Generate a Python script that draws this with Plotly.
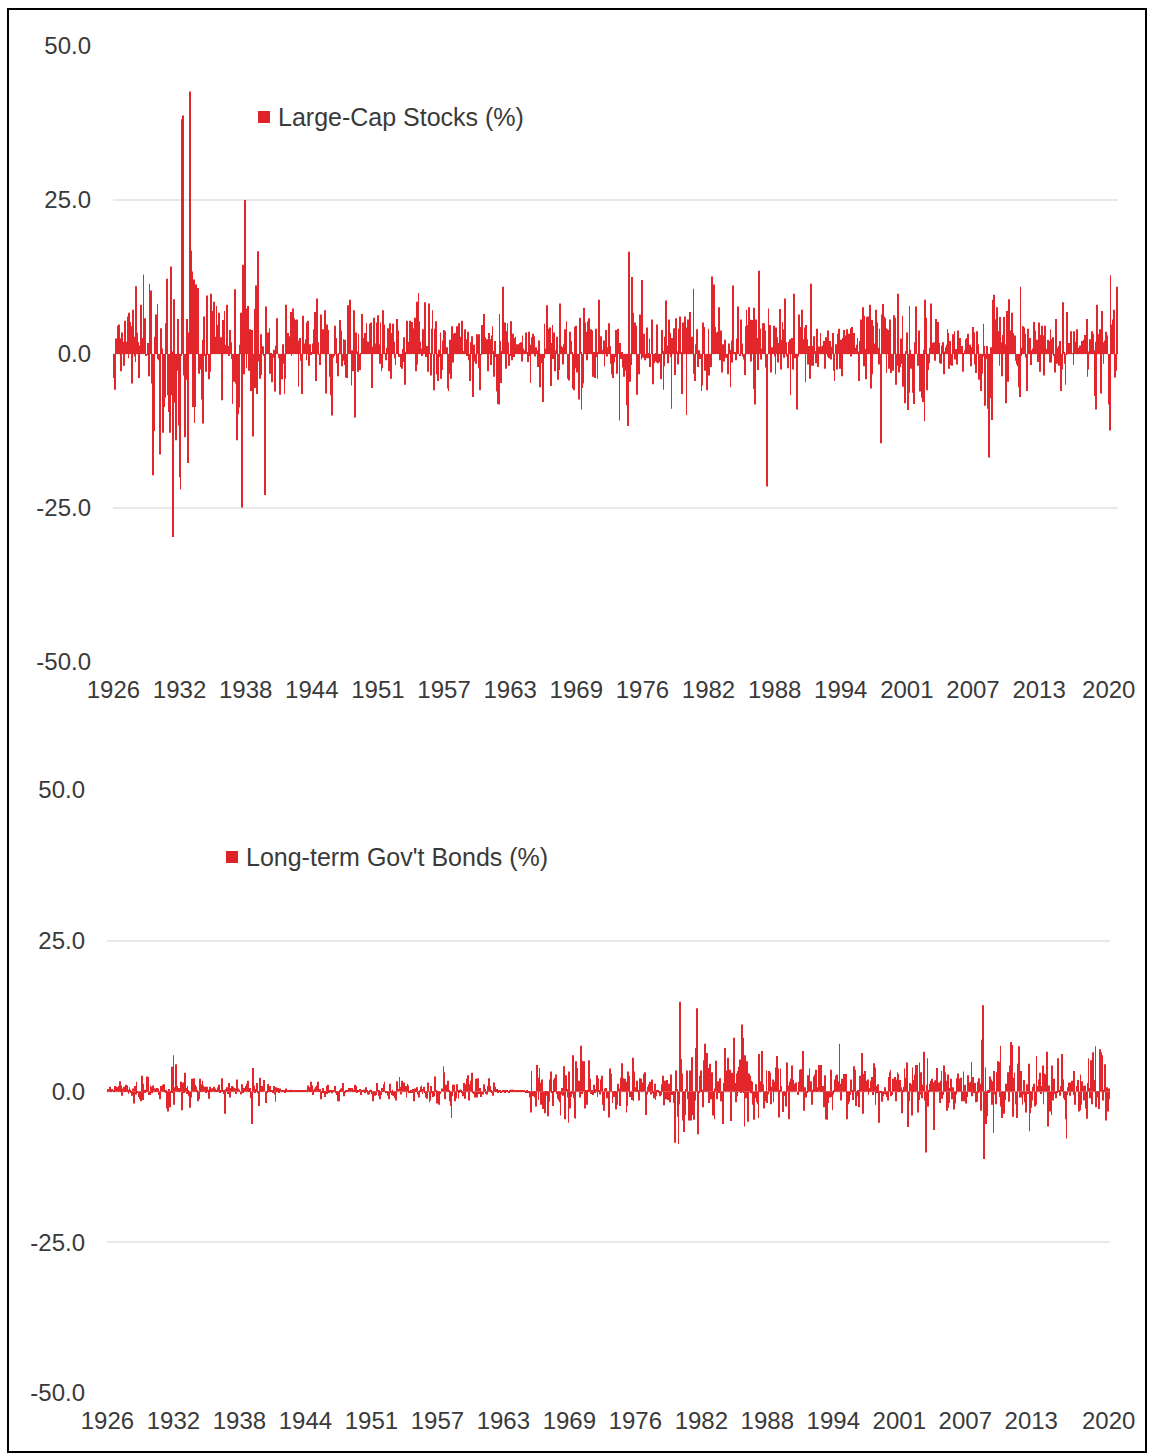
import plotly.graph_objects as go

# ---------------- data ----------------
start_year = 1926
end_year = 2020
months = [f"{y}-{m:02d}" for y in range(start_year, end_year + 1) for m in range(1, 13)]

# Monthly total returns (%), one row per year, Jan..Dec
stock_rows = [
    [0.0, -3.9, -5.8, 2.5, 1.8, 4.6, 4.8, 2.5, 2.5, -2.8, 3.5, 2.0],      # 1926
    [-1.9, 5.4, 0.9, 2.0, 6.1, -0.7, 6.7, 5.2, 4.5, -4.8, 7.2, 2.8],      # 1927
    [-0.4, -1.3, 11.0, 3.5, 1.9, -3.9, 1.4, 8.0, 2.6, 1.7, 12.9, 0.5],    # 1928
    [5.8, -0.2, -0.1, 1.8, -3.6, 11.4, 4.7, 10.3, -4.8, -19.7, -12.5, 2.8],  # 1929
    [6.4, 2.6, 8.1, -0.8, -1.0, -16.3, 4.2, 0.9, -12.8, -8.6, -0.9, -7.1],   # 1930
    [5.0, 12.2, -6.7, -9.4, -12.8, 14.2, -6.7, 0.4, -29.7, 8.9, -7.9, -14.0],  # 1931
    [-2.7, 5.7, -11.6, -20.0, -22.0, -0.2, 38.1, 38.7, -3.5, -13.5, -4.2, 5.7],  # 1932
    [0.9, -17.7, 3.5, 42.6, 16.8, 13.4, -8.6, 12.1, -11.2, -8.6, 11.3, 2.5],   # 1933
    [10.7, -3.2, 0.0, -2.5, -7.4, 2.3, -11.3, 6.1, -0.3, -2.9, 9.5, -0.1],     # 1934
    [-4.1, -3.4, -2.9, 9.8, 4.1, 7.0, 8.5, 2.8, 2.6, 7.8, 4.7, 3.9],          # 1935
    [6.7, 2.2, 2.7, -7.5, 5.5, 3.3, 7.0, 1.5, 0.3, 8.0, 1.3, -0.3],           # 1936
    [3.9, 1.9, -0.8, -8.1, -0.2, -4.5, 10.5, -4.8, -14.0, -9.8, -8.7, -4.6],  # 1937
    [1.5, 6.7, -24.9, 14.5, -3.3, 25.0, 7.4, -2.3, 1.6, 7.8, -2.7, 4.0],      # 1938
    [-6.0, 3.9, -13.4, -0.3, 7.3, -5.5, 11.1, -6.5, 16.7, -1.2, -4.0, 3.2],   # 1939
    [-3.4, 1.3, 1.2, -0.2, -22.9, 7.7, 3.4, 3.5, 1.2, 4.2, -3.2, 0.1],        # 1940
    [-4.6, -0.6, 0.7, -6.1, 1.4, 5.8, 5.8, 0.0, -0.7, -6.6, -2.8, -4.1],      # 1941
    [1.6, -1.6, -6.5, -4.0, 8.0, 2.2, 3.4, 1.6, 2.9, 6.8, -0.2, 5.5],         # 1942
    [7.4, 5.8, 5.5, 0.4, 5.6, 2.2, -5.3, 1.7, 2.6, -1.1, -6.5, 6.2],          # 1943
    [1.7, 0.4, 2.4, -1.0, 5.1, 5.4, -1.9, 1.6, -0.1, 0.2, 1.7, 4.0],          # 1944
    [2.0, 6.8, -4.4, 9.0, 1.9, -0.1, -1.8, 6.4, 4.8, 3.9, 4.0, 1.2],          # 1945
    [7.1, -6.4, 4.8, 3.9, 2.9, -3.7, -2.4, -6.7, -10.0, -0.6, -0.3, 4.6],     # 1946
    [2.6, -0.8, -1.5, -3.6, 0.1, 5.5, 3.8, -2.0, -1.1, 2.4, -1.8, 2.3],       # 1947
    [-3.8, -3.9, 7.9, 2.9, 8.8, 0.5, -5.1, 0.6, -2.8, 7.1, -10.3, 3.5],       # 1948
    [0.4, -2.9, 3.3, -1.8, -2.6, 0.1, 6.5, 2.2, 2.6, 3.4, 1.8, 5.0],          # 1949
    [2.0, 2.0, 0.7, 4.9, 5.1, -5.5, 1.2, 5.1, 5.9, 0.9, 1.7, 5.1],            # 1950
    [6.3, 1.6, -1.6, 5.1, -2.8, -2.3, 7.1, 4.8, 0.1, -1.0, 1.0, 4.2],         # 1951
    [1.8, -2.8, 5.0, -4.0, 3.4, 4.9, 2.0, -0.7, -1.8, 0.2, 5.7, 3.8],         # 1952
    [-0.5, -0.1, -2.1, -2.4, 0.8, -1.3, 2.7, -5.0, 0.3, 5.4, 2.0, 0.5],       # 1953
    [5.4, 1.1, 3.2, 5.2, 4.2, 0.3, 5.9, -2.8, 8.5, -1.7, 9.9, 5.3],           # 1954
    [2.0, 0.9, -0.3, 4.0, 0.6, 8.4, 6.1, -0.5, 1.3, -2.9, 8.2, 0.1],          # 1955
    [-3.5, 4.1, 7.1, -0.0, -5.9, 4.1, 5.3, -3.3, -4.4, 0.7, -0.5, 3.5],       # 1956
    [-4.0, -2.6, 2.2, 3.9, 3.7, 0.1, 1.1, -5.6, -6.0, -3.2, 2.3, -4.0],       # 1957
    [4.5, -1.4, 3.3, 3.4, 2.1, 2.8, 4.5, 1.8, 5.0, 2.7, 2.8, 5.4],            # 1958
    [0.5, 0.5, 0.1, 4.0, 2.4, -0.2, 3.6, -1.0, -4.4, 1.3, 1.9, 2.9],          # 1959
    [-7.0, 1.5, -1.2, -1.6, 3.2, 2.1, -2.3, 3.2, -5.9, -0.1, 4.7, 4.7],       # 1960
    [6.5, 3.2, 2.7, 0.4, 2.4, -2.8, 3.4, 2.4, -1.8, 3.0, 4.5, 0.5],           # 1961
    [-3.7, 2.1, -0.5, -6.1, -8.1, -8.2, 6.5, 2.1, -4.7, 0.5, 10.9, 1.5],      # 1962
    [5.1, -2.4, 3.7, 5.0, 1.9, -1.9, -0.2, 5.3, -1.0, 3.3, -0.5, 2.6],        # 1963
    [2.8, 1.5, 1.6, 0.8, 1.6, 1.8, 1.9, -1.2, 3.0, 0.9, 0.0, 0.6],            # 1964
    [3.5, 0.3, -1.3, 3.6, -0.3, -4.7, 1.5, 2.7, 3.3, 2.9, -0.4, 1.1],         # 1965
    [0.6, -1.3, -2.1, 2.2, -5.4, -1.5, -1.3, -7.8, -0.7, 4.9, 0.9, 0.0],      # 1966
    [7.9, 0.7, 4.1, 4.3, -5.2, 1.8, 4.7, -0.8, 3.5, -2.8, 0.6, 2.8],          # 1967
    [-4.2, -2.6, 1.1, 8.2, 1.3, 1.1, -1.7, 1.6, 4.0, 0.9, 5.3, -4.0],         # 1968
    [-0.7, -4.3, 3.6, 2.1, 0.2, -5.6, -5.9, 4.4, -2.3, 4.6, -3.0, -1.9],      # 1969
    [-7.4, 5.9, 0.3, -9.0, -5.5, -4.8, 7.5, 5.1, 3.6, -1.0, 5.3, 5.8],        # 1970
    [4.2, 1.4, 4.0, 3.8, -3.7, 0.2, -3.9, 4.1, -0.5, -4.0, 0.3, 8.8],         # 1971
    [1.9, 2.9, 0.7, 0.6, 2.2, -2.0, 0.4, 3.9, -0.4, 1.1, 5.0, 1.3],           # 1972
    [-1.6, -3.3, 0.0, -3.9, -1.4, -0.5, 3.9, -3.2, 4.1, 0.0, -10.8, 1.8],     # 1973
    [-0.8, 0.3, -2.2, -3.7, -2.7, -1.3, -7.6, -8.3, -11.7, 16.6, -4.5, -1.8], # 1974
    [12.5, 6.7, 2.4, 5.0, 5.1, 4.6, -6.6, -1.5, -3.3, 6.4, 3.1, -0.9],        # 1975
    [12.0, -0.6, 3.3, -1.0, -0.7, 4.3, -0.7, 0.1, 2.5, -2.1, 0.0, 5.6],       # 1976
    [-4.9, -1.5, -1.2, 0.1, -1.4, 4.8, -1.5, -1.3, 0.0, -4.1, 3.9, 0.5],      # 1977
    [-5.8, -2.0, 2.8, 8.7, 1.4, -1.5, 5.6, 3.4, -0.5, -8.9, 2.6, 1.7],        # 1978
    [4.2, -3.4, 5.8, 0.4, -1.7, 4.1, 1.1, 6.1, 0.3, -6.5, 5.1, 1.9],          # 1979
    [6.1, 0.3, -9.9, 4.3, 5.6, 3.0, 6.8, 1.3, 2.8, 1.9, 10.6, -3.2],          # 1980
    [-4.4, 1.6, 4.0, -2.1, 0.6, -0.8, -0.1, -6.0, -5.1, 5.1, 4.4, -2.7],      # 1981
    [-1.6, -5.9, -0.9, 4.1, -3.5, -1.9, -2.1, 12.6, 1.1, 11.3, 4.4, 1.9],     # 1982
    [3.5, 2.6, 3.6, 7.6, -1.0, 3.8, -3.0, 1.6, 1.4, -1.2, 2.3, -0.6],         # 1983
    [-0.6, -3.3, 1.7, 0.7, -5.4, 2.2, -1.4, 11.1, 0.0, 0.3, -1.0, 2.5],       # 1984
    [7.7, 1.4, 0.0, -0.3, 5.6, 1.7, -0.4, -0.9, -3.4, 4.5, 7.2, 4.7],         # 1985
    [0.4, 7.6, 5.6, -1.2, 5.5, 1.7, -5.7, 7.5, -8.2, 5.6, 2.6, -2.6],         # 1986
    [13.5, 4.1, 2.8, -0.9, 0.9, 5.0, 5.0, 3.8, -2.2, -21.5, -8.2, 7.4],       # 1987
    [4.3, 4.7, -3.0, 1.1, 0.8, 4.6, -0.4, -3.3, 4.3, 2.7, -1.4, 1.8],         # 1988
    [7.3, -2.5, 2.3, 5.2, 4.0, -0.6, 9.0, 1.9, -0.4, -2.3, 2.0, 2.4],         # 1989
    [-6.7, 1.3, 2.6, -2.5, 9.8, -0.7, -0.3, -9.0, -4.9, -0.4, 6.4, 2.7],      # 1990
    [4.4, 7.2, 2.4, 0.2, 4.3, -4.6, 4.7, 2.4, -1.7, 1.3, -4.0, 11.4],         # 1991
    [-1.9, 1.3, -1.9, 2.9, 0.5, -1.5, 4.1, -2.1, 1.2, 0.4, 3.4, 1.2],         # 1992
    [0.8, 1.4, 2.1, -2.4, 2.7, 0.3, -0.4, 3.8, -0.7, 2.1, -0.9, 1.2],         # 1993
    [3.4, -2.7, -4.4, 1.3, 1.6, -2.5, 3.3, 4.1, -2.4, 2.3, -3.6, 1.5],        # 1994
    [2.6, 3.9, 3.0, 2.9, 4.0, 2.3, 3.3, 0.3, 4.2, -0.4, 4.4, 1.9],            # 1995
    [3.4, 0.9, 1.0, 1.5, 2.6, 0.4, -4.4, 2.1, 5.6, 2.8, 7.6, -2.0],           # 1996
    [6.2, 0.8, -4.1, 6.0, 6.1, 4.5, 8.0, -5.6, 5.5, -3.3, 4.6, 1.7],          # 1997
    [1.1, 7.2, 5.1, 1.0, -1.7, 4.1, -1.1, -14.5, 6.4, 8.1, 6.1, 5.8],         # 1998
    [4.2, -3.1, 4.0, 3.9, -2.4, 5.6, -3.1, -0.5, -2.7, 6.3, 2.0, 5.9],        # 1999
    [-5.0, -1.9, 9.8, -3.0, -2.1, 2.5, -1.6, 6.2, -5.3, -0.4, -8.0, 0.5],     # 2000
    [3.5, -9.1, -6.3, 7.8, 0.7, -2.4, -1.0, -6.3, -8.1, 1.9, 7.7, 0.9],       # 2001
    [-1.5, -1.9, 3.8, -6.1, -0.7, -7.1, -7.8, 0.7, -10.9, 8.8, 5.9, -5.9],    # 2002
    [-2.6, -1.5, 1.0, 8.2, 5.3, 1.3, 1.8, 1.9, -1.1, 5.7, 0.9, 5.2],          # 2003
    [1.8, 1.4, -1.5, -1.6, 1.4, 1.9, -3.3, 0.4, 1.1, 1.5, 4.0, 3.4],          # 2004
    [-2.4, 2.1, -1.8, -1.9, 3.2, 0.1, 3.7, -0.9, 0.8, -1.7, 3.8, 0.0],        # 2005
    [2.6, 0.3, 1.2, 1.3, -2.9, 0.1, 0.6, 2.4, 2.6, 3.3, 1.9, 1.4],            # 2006
    [1.5, -2.0, 1.1, 4.4, 3.5, -1.7, -3.1, 1.5, 3.7, 1.6, -4.2, -0.7],        # 2007
    [-6.0, -3.2, -0.4, 4.9, 1.3, -8.4, -0.8, 1.3, -8.9, -16.8, -7.2, 1.1],    # 2008
    [-8.4, -10.7, 8.8, 9.6, 5.6, 0.2, 7.6, 3.6, 3.7, -1.9, 6.0, 1.9],         # 2009
    [-3.6, 3.1, 6.0, 1.6, -8.0, -5.2, 7.0, -4.5, 8.9, 3.8, 0.0, 6.7],         # 2010
    [2.4, 3.4, 0.0, 3.0, -1.1, -1.7, -2.0, -5.4, -7.0, 10.9, -0.2, 1.0],      # 2011
    [4.5, 4.3, 3.3, -0.6, -6.0, 4.1, 1.4, 2.3, 2.6, -1.8, 0.6, 0.9],          # 2012
    [5.2, 1.4, 3.8, 1.9, 2.3, -1.3, 5.1, -2.9, 3.1, 4.6, 3.0, 2.5],           # 2013
    [-3.5, 4.6, 0.8, 0.7, 2.3, 2.1, -1.4, 4.0, -1.4, 2.4, 2.7, -0.3],         # 2014
    [-3.0, 5.7, -1.6, 1.0, 1.3, -1.9, 2.1, -6.0, -2.5, 8.4, 0.3, -1.6],       # 2015
    [-5.0, -0.1, 6.8, 0.4, 1.8, 0.3, 3.7, 0.1, 0.0, -1.8, 3.7, 2.0],          # 2016
    [1.9, 4.0, 0.1, 1.0, 1.4, 0.6, 2.1, 0.3, 2.1, 2.3, 3.1, 1.1],             # 2017
    [5.7, -3.7, -2.5, 0.4, 2.4, 0.6, 3.7, 3.3, 0.6, -6.8, 2.0, -9.0],         # 2018
    [8.0, 3.2, 1.9, 4.0, -6.4, 7.0, 1.4, -1.6, 1.9, 2.2, 3.6, 3.0],           # 2019
    [-0.0, -8.2, -12.4, 12.8, 4.8, 2.0, 5.6, 7.2, -3.8, -2.7, 10.9, 3.8],     # 2020
]

bond_rows = [
    [0.1, 0.4, 0.4, 0.8, 0.1, 0.4, 0.0, 0.1, 0.4, 0.9, 0.8, 0.7],            # 1926
    [0.6, 0.9, 1.7, 0.1, 1.0, -0.7, 0.5, 0.8, 0.1, 1.1, 1.0, 0.3],           # 1927
    [-0.4, 0.7, 0.3, -0.1, -0.7, 0.5, -2.0, 0.9, -0.5, 1.6, -0.2, 0.0],      # 1928
    [-0.9, -1.3, -1.6, 2.6, -1.4, 1.3, 0.3, -0.2, 0.3, 2.5, 2.4, -0.6],      # 1929
    [-0.6, 1.0, 0.8, -0.3, 1.0, 0.5, 0.5, 0.2, 0.6, 0.5, 0.4, -0.6],         # 1930
    [-1.3, 0.9, 0.9, 1.1, 1.2, 0.1, -0.1, 0.1, -2.8, -3.3, 0.4, -2.6],       # 1931
    [-0.2, 4.1, -0.2, 6.0, -2.2, 0.7, 4.5, 0.9, 0.6, 0.1, 0.6, 1.6],         # 1932
    [1.6, -3.1, 1.5, -0.1, 3.1, 0.6, -0.4, 0.9, 0.2, -0.8, -2.7, -1.0],      # 1933
    [2.1, 0.9, 2.2, 1.5, 1.1, 0.8, 0.1, -1.6, -1.3, 2.1, 0.3, 1.2],          # 1934
    [1.8, 1.0, 0.5, 0.8, -0.2, 0.8, 0.3, -1.2, -0.1, 0.8, 0.2, 0.5],         # 1935
    [0.5, 0.8, 0.5, 0.2, 0.3, 0.1, 0.7, 1.1, -0.1, 0.2, 2.2, 0.2],           # 1936
    [-0.4, 0.2, -3.7, 0.4, 0.7, -0.4, 1.4, -1.0, 0.6, 0.5, 0.9, 0.8],        # 1937
    [0.6, 0.5, -0.4, 2.0, 0.5, 0.0, 0.3, 0.0, -0.5, 1.2, -0.2, 0.6],         # 1938
    [0.6, 0.9, 1.3, 1.2, 1.8, 0.1, 0.6, -1.1, -5.4, 3.9, 1.5, 1.0],          # 1939
    [-0.2, 0.4, 1.4, -0.3, -2.4, 2.3, 0.7, 0.3, 0.9, 0.4, 1.9, 0.0],         # 1940
    [-1.9, -0.1, 1.2, 1.3, 0.2, 0.9, 0.2, 0.1, -0.1, 0.9, -0.5, -1.7],       # 1941
    [0.7, 0.1, 0.6, -0.1, 0.5, 0.0, 0.2, 0.1, 0.0, 0.2, -0.2, 0.5],          # 1942
    [0.2, 0.0, 0.1, 0.2, 0.3, 0.3, 0.1, 0.1, 0.1, 0.1, 0.0, 0.2],            # 1943
    [0.2, 0.2, 0.1, 0.1, 0.2, 0.1, 0.2, 0.2, 0.1, 0.1, 0.2, 0.2],            # 1944
    [1.0, 0.7, 0.1, 1.6, 0.3, 1.0, -0.6, 0.3, 0.5, 0.8, 1.0, 1.6],           # 1945
    [0.2, 0.3, 0.4, -1.3, -0.1, 0.6, -0.2, -0.9, -0.3, 0.9, -0.4, 1.1],      # 1946
    [-0.1, 0.1, 0.2, -0.3, 0.2, 0.2, 0.5, 0.9, -0.2, -0.6, -1.6, -1.6],      # 1947
    [0.1, 0.5, 0.4, 0.5, 1.4, -0.8, -0.1, 0.1, 0.2, 0.1, 0.6, 0.4],          # 1948
    [0.6, 0.5, 0.6, 0.2, 0.3, 1.1, 0.3, 0.9, -0.1, 0.1, 0.1, 0.4],           # 1949
    [-0.6, 0.1, 0.0, 0.3, 0.3, -0.3, 0.7, 0.1, -0.5, -0.5, 0.2, 0.2],        # 1950
    [0.3, -0.4, -1.6, -0.6, -0.7, -0.6, 1.4, 1.0, -0.8, 0.1, -1.3, -0.6],    # 1951
    [0.6, 0.2, 1.2, 1.6, -0.3, 0.0, -0.3, -0.7, -1.3, 1.3, -0.2, -0.6],      # 1952
    [0.3, -0.7, -0.7, -1.1, -1.5, 1.7, 0.4, 0.0, 2.4, 0.8, -0.5, 1.8],       # 1953
    [0.9, 1.5, 0.8, 0.9, -1.0, 1.3, 1.0, -0.2, -0.2, 0.2, -0.1, 0.4],        # 1954
    [-1.6, -0.5, 0.5, 0.1, 0.7, -0.5, -1.0, 0.1, 0.8, 1.0, -0.4, 0.4],       # 1955
    [0.8, -0.1, -1.0, -1.2, 1.5, 0.4, -1.8, -1.5, 0.9, -0.3, -0.9, -0.8],    # 1956
    [2.5, 0.1, -0.2, -2.0, -0.1, -2.2, -0.4, 0.0, 0.5, 0.0, 4.2, 3.2],       # 1957
    [-1.3, 1.1, 0.5, 1.8, 0.1, -1.6, -2.4, -4.4, -0.8, 1.1, 1.1, -1.6],      # 1958
    [-1.1, 1.2, 0.2, -1.2, -0.1, 0.3, 0.3, -0.3, -0.8, 1.4, -1.2, -1.1],     # 1959
    [1.2, 2.1, 2.7, -1.5, 1.2, 1.8, 3.1, -0.3, 0.0, -0.4, -1.0, 2.1],        # 1960
    [-1.0, 2.2, -0.4, 0.6, -0.3, -0.9, 0.0, -0.5, 1.2, 0.4, -0.4, -0.5],     # 1961
    [-0.1, 0.9, 2.2, 0.9, 0.2, -0.2, -0.7, 1.5, 0.6, 0.8, 0.2, 0.4],         # 1962
    [-0.1, 0.1, 0.1, -0.1, 0.0, 0.2, 0.1, 0.2, -0.1, 0.1, 0.1, 0.0],         # 1963
    [-0.1, 0.1, 0.2, 0.3, 0.3, 0.3, 0.1, 0.2, 0.2, 0.1, 0.1, 0.2],           # 1964
    [0.1, 0.1, 0.2, 0.1, 0.1, 0.1, 0.1, 0.0, -0.1, 0.1, -0.1, -0.1],         # 1965
    [-1.0, -3.5, 3.4, -0.6, -0.8, -0.3, -1.0, -2.5, 4.4, 2.3, -1.4, 3.9],    # 1966
    [1.5, -2.2, 2.0, -2.9, -0.4, -3.6, -0.3, -0.7, -0.2, -4.1, -1.7, 2.0],   # 1967
    [3.3, -0.3, -2.4, 2.0, 0.3, 2.3, 2.8, -0.4, -1.2, -1.5, -1.8, -4.0],     # 1968
    [-0.5, 0.6, -0.7, 4.2, -4.6, 2.7, 0.4, -1.0, -5.2, 3.3, -2.8, -0.9],     # 1969
    [-0.4, 6.0, -1.1, -4.4, -4.5, 5.0, 3.9, 0.5, 1.8, -1.0, 7.6, -0.4],      # 1970
    [5.1, 1.7, 5.0, -2.8, 0.2, -2.2, 0.3, 5.2, 2.1, 2.1, -0.4, 0.2],         # 1971
    [-0.6, 1.1, -0.2, 0.4, 2.7, -0.9, 2.2, 0.2, -0.5, 2.0, 2.6, -2.2],       # 1972
    [-3.2, 0.5, 0.5, 0.6, -1.1, -0.5, -4.3, 3.8, 3.0, 2.0, -1.9, -0.7],      # 1973
    [-0.9, -0.1, -3.0, -2.2, 1.3, 0.5, -0.1, -2.4, 2.3, 4.7, 2.2, 1.9],      # 1974
    [2.1, 1.6, -3.5, -2.4, 3.3, 2.6, -0.9, -0.4, -1.4, 5.6, -1.6, 3.3],      # 1975
    [0.6, 0.7, 1.8, 0.1, -1.5, 2.2, 1.1, 2.1, 1.5, 0.9, 2.9, 3.2],           # 1976
    [-3.9, -0.5, 0.8, 0.9, 1.2, 1.6, -0.5, 2.0, -0.3, -1.1, 1.3, -1.4],      # 1977
    [-0.8, 0.2, 0.2, -0.2, -0.8, -0.6, 1.2, 2.6, -0.7, -2.3, 1.8, -1.3],     # 1978
    [1.9, -1.4, 1.3, -1.8, 2.5, 2.8, -0.6, -0.4, -1.9, -8.5, 3.5, 0.4],      # 1979
    [-4.2, -8.7, -2.1, 14.9, 5.4, 3.0, -4.8, -6.7, -3.3, -3.9, 0.4, 3.5],    # 1980
    [-1.3, -4.8, 3.5, -4.8, 5.7, -1.2, -3.9, -4.7, -1.5, 7.2, 13.8, -7.1],   # 1981
    [-0.2, 2.6, 2.1, 3.5, 0.3, -2.6, 5.2, 7.9, 6.3, 6.4, 0.1, 3.9],          # 1982
    [-1.9, 4.6, -1.3, 3.2, -4.0, -0.2, -4.6, 0.5, 5.1, -1.3, 1.7, -0.1],     # 1983
    [2.2, -1.6, -1.6, -0.8, -5.4, 1.4, 7.2, 2.8, 3.5, 5.6, 1.4, 1.0],        # 1984
    [3.6, -4.9, 3.1, 2.9, 8.9, 1.4, -1.8, 3.0, -0.8, 3.4, 4.1, 5.3],         # 1985
    [-0.1, 11.1, 8.9, -0.1, -5.8, 6.0, -1.1, 5.0, -5.0, 3.0, 2.6, -0.3],     # 1986
    [1.8, 1.6, -2.2, -4.7, -1.1, 1.2, -1.8, -2.1, -4.4, 6.2, 0.1, 1.7],      # 1987
    [6.7, 1.2, -2.8, -1.6, -1.5, 3.5, -1.9, -0.5, 3.4, 3.1, -2.1, 0.8],      # 1988
    [2.0, -1.8, 1.2, 1.6, 4.0, 5.9, 3.8, -4.3, 0.2, 3.8, 0.9, 0.0],          # 1989
    [-3.4, -0.7, -0.7, -2.5, 4.8, 2.6, 1.0, -4.6, 1.6, 2.1, 4.3, 1.9],       # 1990
    [1.3, 0.5, 0.4, 1.5, 0.0, -0.6, 1.6, 3.6, 3.7, 0.5, 0.9, 6.7],           # 1991
    [-3.2, 0.7, -1.0, -0.1, 2.7, 2.0, 3.8, 0.9, 1.7, -2.2, 0.3, 2.5],        # 1992
    [2.8, 3.6, 0.3, 0.7, 0.5, 4.4, 1.9, 4.4, 0.2, 0.9, -2.6, 0.2],           # 1993
    [2.7, -4.6, -4.7, -1.9, -0.9, -1.0, 3.6, -0.9, -3.1, -0.5, 0.2, 2.0],    # 1994
    [2.6, 2.8, 0.9, 1.7, 7.9, 1.3, -1.5, 2.1, 1.8, 2.9, 2.7, 2.9],           # 1995
    [0.0, -4.6, -2.1, -1.7, -0.6, 2.0, 0.2, -1.4, 2.8, 4.2, 3.6, -2.4],      # 1996
    [-0.8, 0.2, -2.6, 2.6, 0.9, 2.0, 6.4, -3.7, 2.9, 3.4, 1.5, 1.8],         # 1997
    [2.0, -0.6, 0.3, 0.6, 1.8, 2.4, -0.6, 4.7, 4.0, -2.2, 0.9, -0.3],        # 1998
    [1.2, -5.2, -0.1, -0.1, -1.7, -0.8, -0.8, -0.4, 0.7, -0.5, -0.9, -1.5],  # 1999
    [2.4, 3.2, 3.6, -0.8, -0.6, 2.1, 1.8, 2.4, -1.6, 2.0, 3.2, 2.9],         # 2000
    [0.2, 1.9, 0.7, -3.6, 0.3, 0.8, 3.8, 2.3, 0.7, 4.8, -5.9, -1.6],         # 2001
    [1.4, 1.2, -4.0, 4.0, 0.1, 1.9, 2.8, 4.4, 4.4, -3.5, -1.4, 4.8],         # 2002
    [-0.5, 3.2, -1.1, 1.1, 6.6, -1.5, -10.1, 1.1, 5.5, -2.5, 0.2, 1.3],      # 2003
    [1.8, 2.1, 1.5, -6.4, -0.6, 1.8, 1.9, 3.9, 1.3, 1.5, -1.9, 1.8],         # 2004
    [3.4, -1.2, -0.6, 4.3, 3.2, 1.8, -3.2, 2.8, -2.7, -1.9, 0.6, 2.1],       # 2005
    [-1.3, 0.7, -3.0, -2.0, -0.5, 0.4, 2.2, 3.0, 2.1, 0.9, 2.3, -1.6],       # 2006
    [-1.1, 3.3, -1.6, 1.1, -2.0, -0.9, 2.7, 1.5, 0.3, 1.6, 4.9, -0.8],       # 2007
    [2.4, -0.1, 1.4, -1.8, -1.7, 1.6, -0.1, 2.2, 1.3, -3.2, 8.6, 14.3],      # 2008
    [-11.2, -0.6, 4.0, -5.4, -4.1, 0.1, -0.1, 2.5, 2.0, -2.2, 1.7, -6.9],    # 2009
    [3.4, -0.5, -2.1, 3.2, 5.0, 4.9, -0.9, 7.6, -2.5, -4.4, -1.6, -3.7],     # 2010
    [-1.4, 1.3, 0.0, 2.3, 3.2, -1.7, 4.3, 8.2, 7.7, -4.2, 2.3, 3.1],         # 2011
    [0.0, -2.1, -4.4, 4.6, 7.5, -1.0, 3.4, -1.0, -2.2, -0.5, 1.9, -1.8],     # 2012
    [-3.5, 1.2, -0.4, 4.6, -6.6, -3.6, -2.7, -1.5, 0.8, 1.3, -2.5, -2.2],    # 2013
    [5.9, 0.4, 0.9, 2.0, 3.1, -0.4, 0.9, 4.3, -2.1, 3.0, 2.8, 2.8],          # 2014
    [6.6, -5.8, 1.0, -3.3, -2.3, -3.9, 4.3, -1.5, 2.1, -0.4, -1.1, -0.2],    # 2015
    [5.5, 3.0, 0.1, -0.7, 0.9, 6.2, 2.0, -1.1, -1.4, -4.6, -7.8, -0.6],      # 2016
    [0.7, 1.5, -0.7, 1.5, 1.8, 1.0, -0.6, 3.4, -2.2, 0.0, 0.9, 1.9],         # 2017
    [-3.3, -3.1, 2.8, -2.2, 1.7, 0.9, -1.5, 1.0, -2.8, -4.5, 1.4, 5.5],      # 2018
    [0.6, -1.1, 5.2, -2.1, 6.5, 1.9, 0.5, 7.5, -2.6, -1.0, -0.2, -2.9],      # 2019
    [7.0, 6.5, 6.0, 1.2, -1.5, 0.3, 4.5, -4.8, 0.7, -3.3, 0.5, -1.3],        # 2020
]

for rows in (stock_rows, bond_rows):
    assert len(rows) == end_year - start_year + 1
    for r in rows:
        assert len(r) == 12, r

stock_returns = [v for r in stock_rows for v in r]
bond_returns = [v for r in bond_rows for v in r]

series_names = ["Large-Cap Stocks (%)", "Long-term Gov't Bonds (%)"]

tick_years = ["1926", "1932", "1938", "1944", "1951", "1957", "1963", "1969",
              "1976", "1982", "1988", "1994", "2001", "2007", "2013", "2020"]
tick_months_top = ["1926-01", "1932-04", "1938-07", "1944-10", "1951-01", "1957-04",
                   "1963-07", "1969-10", "1976-01", "1982-04", "1988-07", "1994-10",
                   "2001-01", "2007-04", "2013-07", "2020-02"]
tick_months_bottom = tick_months_top[:-1] + ["2020-11"]

y_tick_vals = [-50, -25, 0, 25, 50]
y_tick_text = ["-50.0", "-25.0", "0.0", "25.0", "50.0"]

# ---------------- figure ----------------
W, H = 1150, 1456
BAR_COLOR = "#e3262c"
TEXT_COLOR = "#3a3a3a"
GRID_COLOR = "#e8e8e8"
FONT = "Liberation Sans, Arial, sans-serif"

fig = go.Figure()
fig.add_trace(go.Bar(x=months, y=stock_returns, name=series_names[0],
                     marker=dict(color=BAR_COLOR, line=dict(width=0)),
                     xaxis="x", yaxis="y", showlegend=False))
fig.add_trace(go.Bar(x=months, y=bond_returns, name=series_names[1],
                     marker=dict(color=BAR_COLOR, line=dict(width=0)),
                     xaxis="x2", yaxis="y2", showlegend=False))

def px_x(p):
    return p / W

def px_y(p):
    return 1 - p / H

xcommon = dict(type="category", range=[-0.5, len(months) - 0.5], showgrid=False,
               zeroline=False, showline=False, ticks="", automargin=False,
               tickfont=dict(family=FONT, size=24, color=TEXT_COLOR),
               ticklabelstandoff=11, tickangle=0)
ycommon = dict(range=[-50, 50], tickvals=y_tick_vals, ticktext=y_tick_text,
               showgrid=True, gridcolor=GRID_COLOR, gridwidth=1.5, zeroline=False,
               showline=False, ticks="", automargin=False,
               tickfont=dict(family=FONT, size=24, color=TEXT_COLOR),
               ticklabelstandoff=21)

fig.update_layout(
    width=W, height=H, autosize=False,
    margin=dict(l=0, r=0, t=0, b=0, pad=0, autoexpand=False),
    paper_bgcolor="white", plot_bgcolor="white",
    bargap=0.05,
    showlegend=False,
    xaxis=dict(domain=[px_x(113), px_x(1118)], anchor="y",
               tickvals=tick_months_top, ticktext=tick_years, **xcommon),
    yaxis=dict(domain=[px_y(662), px_y(46)], anchor="x", **ycommon),
    xaxis2=dict(domain=[px_x(107), px_x(1110)], anchor="y2",
                tickvals=tick_months_bottom, ticktext=tick_years, **xcommon),
    yaxis2=dict(domain=[px_y(1393), px_y(790)], anchor="x2", **ycommon),
)

# legend-like labels (swatch + text)
legend_specs = [
    (series_names[0], 258, 117),
    (series_names[1], 226, 857),
]
for name, sx, cy in legend_specs:
    fig.add_shape(type="rect", xref="paper", yref="paper",
                  x0=px_x(sx), x1=px_x(sx + 12), y0=px_y(cy + 6), y1=px_y(cy - 6),
                  fillcolor="#e02229", line=dict(width=0))
    fig.add_annotation(xref="paper", yref="paper", x=px_x(sx + 18), y=px_y(cy),
                       xanchor="left", yanchor="middle", showarrow=False,
                       text=name, font=dict(family=FONT, size=25, color=TEXT_COLOR))

# outer frame
fig.add_shape(type="rect", xref="paper", yref="paper",
              x0=px_x(8), x1=px_x(1146), y0=px_y(1452), y1=px_y(9),
              line=dict(color="black", width=2), fillcolor="rgba(0,0,0,0)")

fig.write_html("out.html")
